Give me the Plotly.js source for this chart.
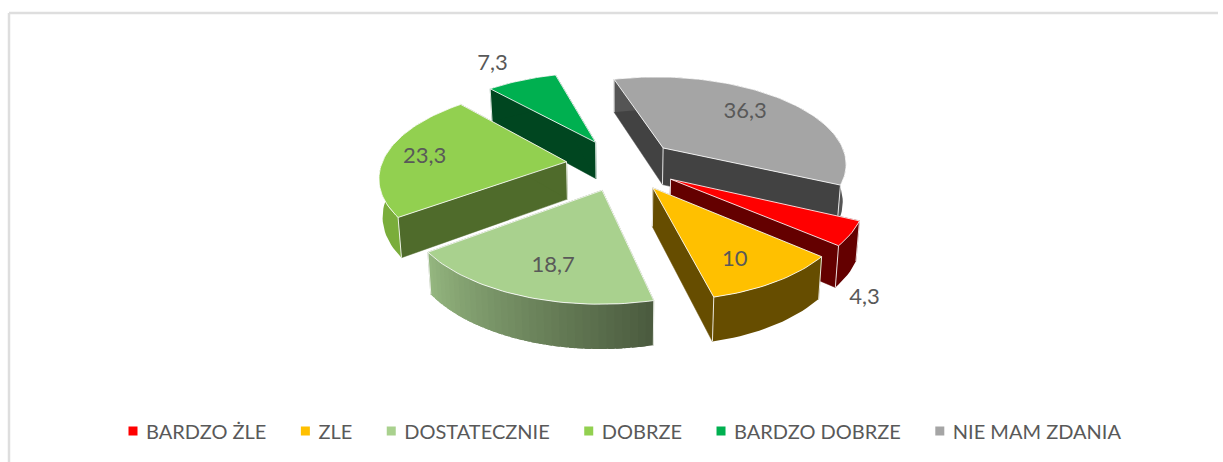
<!DOCTYPE html>
<html><head><meta charset="utf-8">
<script src="https://cdn.plot.ly/plotly-3.0.1.min.js"></script>
<style>html,body{margin:0;padding:0;background:#fff}#chart{width:1223px;height:462px}</style>
</head><body><div id="chart"></div>
<script>
// ---- data ----
const categories = ['BARDZO ŻLE','ZLE','DOSTATECZNIE','DOBRZE','BARDZO DOBRZE','NIE MAM ZDANIA'];
const values = [4.3,10,18.7,23.3,7.3,36.3];
const labels = ['4,3','10','18,7','23,3','7,3','36,3'];
// ---- styles ----
const topColors  = ['#ff0000','#ffc000','#a9d18e','#92d050','#00b050','#a5a5a5'];
const wallColors = ['#640000','#664d00','#4f6b35','#4f6b2b','#004620','#424242'];
const arcStart   = ['#640000','#664d00','#4a5a3e','#7aad3b','#004620','#555555'];
const arcEnd     = ['#640000','#664d00','#95b780','#7aad3b','#004620','#555555'];
const labelDX = [194,82,-49,-142,-103,82];
const labelDY = [119,73,76,-4,-78,-35];
const drawOrder = [5,4,3,0,2,1];
// ---- 3D projection parameters ----
const cx=622, cy=164.5, k=0.47, a=0.0018, q=0.015, H=37.5, R=185, E=56, startDeg=115.1, skew=0.02;
function project(X,Y,Z){
  const w=k*Y, s=1/(1-a*w), t=s*(1-q*Z);
  return [cx+t*X+skew*s*w, cy+t*w+s*H*Z];
}
const dir=d=>{const r=d*Math.PI/180;return [Math.sin(r),-Math.cos(r)];};
const total=values.reduce((p,c)=>p+c,0);
function lerpColor(c0,c1,t){
  const p=c=>[1,3,5].map(i=>parseInt(c.substr(i,2),16));
  const A=p(c0),B=p(c1);
  return 'rgb('+A.map((v,i)=>Math.round(v+(B[i]-v)*t)).join(',')+')';
}
function poly(points,fill,line,lw){
  return {type:'scatter',mode:'lines',x:points.map(p=>p[0]),y:points.map(p=>p[1]),fill:'toself',
    fillcolor:fill,line:{color:line,width:lw},hoverinfo:'skip',showlegend:false};
}
let angle=startDeg; const slices=[];
values.forEach((v,i)=>{const sweep=v/total*360;slices.push({i,a0:angle,a1:angle+sweep});angle+=sweep;});
const traces=[], labelX=[], labelY=[], labelText=[];
drawOrder.forEach(i=>{
  const sl=slices[i], mid=(sl.a0+sl.a1)/2, e=dir(mid), ax=E*e[0], ay=E*e[1];
  const rim=(d,Z)=>{const u=dir(d);return project(ax+R*u[0],ay+R*u[1],Z);};
  const apexT=project(ax,ay,0), apexB=project(ax,ay,1);
  // radial walls
  [sl.a0,sl.a1].forEach(d=>{
    traces.push(poly([apexT,rim(d,0),rim(d,1),apexB,apexT],wallColors[i],wallColors[i],0.5));
  });
  // outer wall (each band overlaps the next so the gradient has no seams)
  const flat=arcStart[i]===arcEnd[i], segs=flat?1:34, sweep=sl.a1-sl.a0;
  for(let n=0;n<segs;n++){
    const d0=sl.a0+sweep*n/segs, d1=Math.min(sl.a1,sl.a0+sweep*(n+1.8)/segs), sub=flat?Math.ceil(sweep/2):3, up=[],dn=[];
    for(let m=0;m<=sub;m++){const d=d0+(d1-d0)*m/sub;up.push(rim(d,0));dn.unshift(rim(d,1));}
    const c=lerpColor(arcStart[i],arcEnd[i],(n+0.5)/segs);
    traces.push(poly(up.concat(dn,[up[0]]),c,c,0));
  }
  // light corner edges
  const c0T=rim(sl.a0,0),c0B=rim(sl.a0,1),c1T=rim(sl.a1,0),c1B=rim(sl.a1,1);
  traces.push({type:'scatter',mode:'lines',
    x:[apexT[0],apexB[0],null,c0T[0],c0B[0],null,c1T[0],c1B[0]],
    y:[apexT[1],apexB[1],null,c0T[1],c0B[1],null,c1T[1],c1B[1]],
    line:{color:'rgba(255,255,255,0.85)',width:1},hoverinfo:'skip',showlegend:false});
  // top face
  const top=[apexT], steps=Math.ceil(sweep/1.5);
  for(let m=0;m<=steps;m++) top.push(rim(sl.a0+sweep*m/steps,0));
  top.push(apexT);
  traces.push(poly(top,topColors[i],'rgba(255,255,255,0.85)',1));
  labelX.push(apexT[0]+labelDX[i]); labelY.push(apexT[1]+labelDY[i]); labelText.push(labels[i]);
});
traces.push({type:'scatter',mode:'text',x:labelX,y:labelY,text:labelText,textposition:'middle center',
  textfont:{family:'Lato, sans-serif',size:22,color:'#595959'},hoverinfo:'skip',showlegend:false,cliponaxis:false});
// legend entries
categories.forEach((c,i)=>traces.push({type:'scatter',mode:'markers',x:[null],y:[null],name:c,
  marker:{symbol:'square',size:9,color:topColors[i]},hoverinfo:'skip',showlegend:true}));
const layout={width:1223,height:462,margin:{l:0,r:0,t:0,b:0},paper_bgcolor:'#fff',plot_bgcolor:'#fff',
  xaxis:{range:[0,1223],visible:false,fixedrange:true},
  yaxis:{range:[462,0],visible:false,fixedrange:true},
  showlegend:true,
  legend:{orientation:'h',x:99/1223,xanchor:'left',y:1-431/462,yanchor:'middle',itemwidth:37,
    font:{family:'Lato, sans-serif',size:20,color:'#595959'},bgcolor:'rgba(0,0,0,0)',traceorder:'normal'},
  shapes:[{type:'line',xref:'paper',yref:'paper',x0:9/1223,x1:1218/1223,y0:1-13/462,y1:1-13/462,line:{color:'#dedede',width:2.5}},
          {type:'line',xref:'paper',yref:'paper',x0:9/1223,x1:9/1223,y0:1-13/462,y1:0,line:{color:'#dedede',width:2.5}}]};
Plotly.newPlot('chart',traces,layout,{displayModeBar:false,responsive:false}).then(()=>{
  // legend swatch sits closer to its text than the library default
  document.querySelectorAll('.legend .legendpoints').forEach(g=>g.setAttribute('transform','translate(10.5,0)'));
});
</script></body></html>
